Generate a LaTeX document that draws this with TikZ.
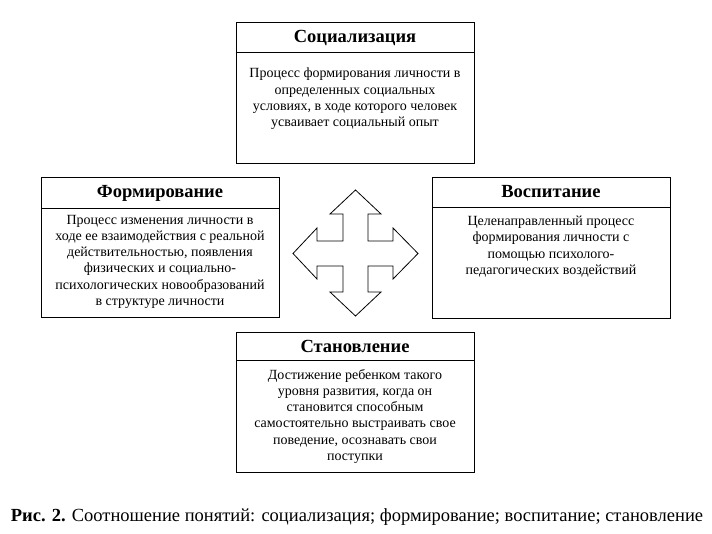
\documentclass[tikz,border=0pt]{standalone}
\usepackage{fontspec}
\setmainfont{Liberation Serif}
\begin{document}
\begin{tikzpicture}[x=1pt,y=-1pt,
  box/.style={draw=black,line width=0.9pt,inner sep=0pt,anchor=north west},
  sep/.style={draw=black,line width=0.9pt},
  ttl/.style={font=\fontsize{18.5}{21}\selectfont\bfseries,inner sep=0pt},
  body/.style={font=\fontsize{14}{16.2}\selectfont,align=center,inner sep=0pt,anchor=north},
  cross/.style={draw=black,line width=0.8pt,fill=white,line join=miter}]
\useasboundingbox (0,0) rectangle (712,534);
% top box
\node[box,minimum width=238pt,minimum height=141pt] (soc) at (236,22) {};
\coordinate (socL) at (236,52); \coordinate (socR) at (474,52);
\draw[sep] (socL) -- (socR);
\node[ttl] (socT) at (355,38) {Социализация};
\node[body] (socB) at (355,68) {Процесс формирования личности в\\определенных социальных\\условиях, в ходе которого человек\\усваивает социальный опыт};
% left box
\node[box,minimum width=238pt,minimum height=140pt] (form) at (41,177) {};
\coordinate (formL) at (41,208); \coordinate (formR) at (279,208);
\draw[sep] (formL) -- (formR);
\node[ttl] (formT) at (160,193) {Формирование};
\node[body] (formB) at (160,215) {Процесс изменения личности в\\ходе ее взаимодействия с реальной\\действительностью, появления\\физических и социально-\\психологических новообразований\\в структуре личности};
% right box
\node[box,minimum width=238pt,minimum height=141pt] (vos) at (432,177) {};
\coordinate (vosL) at (432,207); \coordinate (vosR) at (670,207);
\draw[sep] (vosL) -- (vosR);
\node[ttl] (vosT) at (551,192) {Воспитание};
\node[body] (vosB) at (551,216) {Целенаправленный процесс\\формирования личности с\\помощью психолого-\\педагогических воздействий};
% bottom box
\node[box,minimum width=238pt,minimum height=140pt] (stan) at (236,332) {};
\coordinate (stanL) at (236,360); \coordinate (stanR) at (474,360);
\draw[sep] (stanL) -- (stanR);
\node[ttl] (stanT) at (355,346) {Становление};
\node[body] (stanB) at (355,369) {Достижение ребенком такого\\уровня развития, когда он\\становится способным\\самостоятельно выстраивать свое\\поведение, осознавать свои\\поступки};
% four-way arrow
\draw[cross] (355.5,190) -- (381,214) -- (368,214) -- (368,241) -- (393,241) -- (393,228)
  -- (418,253.5) -- (393,279) -- (393,266) -- (368,266) -- (368,292) -- (381,292)
  -- (355.5,316) -- (330,292) -- (343,292) -- (343,266) -- (317,266) -- (317,279)
  -- (293,253.5) -- (317,228) -- (317,241) -- (343,241) -- (343,214) -- (330,214) -- cycle;
% caption
\node[font=\fontsize{18.5}{21}\selectfont,inner sep=0pt] (cap) at (357,517) {\textbf{Рис. 2.} Соотношение понятий: социализация; формирование; воспитание; становление};
\end{tikzpicture}
\end{document}
